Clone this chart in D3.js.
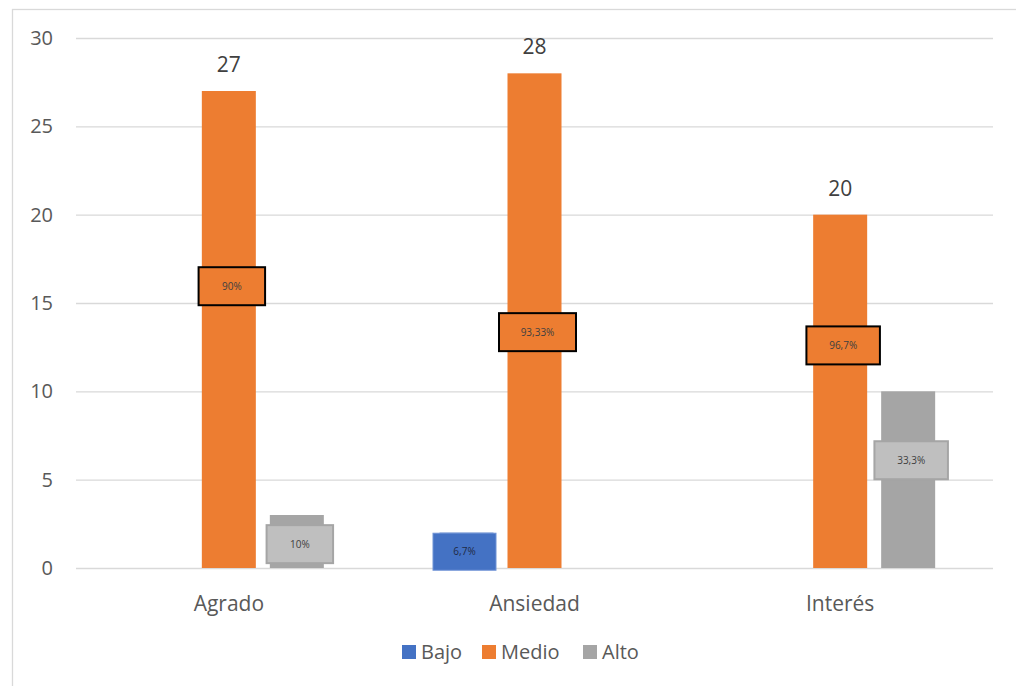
<!DOCTYPE html>
<html>
<head>
<meta charset="utf-8">
<script src="https://cdn.jsdelivr.net/npm/d3@7"></script>
<style>
  body { margin: 0; background: #fff; }
  svg text { font-family: "Open Sans", "Noto Sans", sans-serif; }
</style>
</head>
<body>
<div id="chart"></div>
<script>
// categories and series
const categories = ["Agrado", "Ansiedad", "Interés"];
const seriesNames = ["Bajo", "Medio", "Alto"];
const bajo = [0, 2, 0];
const medio = [27, 28, 20];
const alto = [3, 0, 10];
const yTicks = [0, 5, 10, 15, 20, 25, 30];

// percentage labels (series index, category index, text, value where the box sits)
const pctSeries = [1, 1, 1, 2, 2, 0];
const pctCats = [0, 1, 2, 0, 2, 1];
const pctText = ["90%", "93,33%", "96,7%", "10%", "33,3%", "6,7%"];
const pctAt = [15.95, 13.35, 12.6, 1.35, 6.1, 0.95];

const colors = ["#4472c4", "#ed7d31", "#a5a5a5"];
const boxFill = ["#4472c4", "#ed7d31", "#bfbfbf"];
const boxStroke = ["#6f93d6", "#000000", "#a5a5a5"];

const width = 1016, height = 686;
const margin = { top: 38, right: 23, bottom: 118, left: 76 };
const w = width - margin.left - margin.right;
const h = height - margin.top - margin.bottom;

const values = [bajo, medio, alto];

const svg = d3.select("#chart").append("svg")
  .attr("width", width)
  .attr("height", height);

// chart frame
svg.append("rect")
  .attr("x", 12.5).attr("y", 9.5)
  .attr("width", 1010).attr("height", 700)
  .attr("fill", "none")
  .attr("stroke", "#d9d9d9")
  .attr("stroke-width", 1.3);

const g = svg.append("g")
  .attr("transform", "translate(" + margin.left + "," + margin.top + ")");

const x0 = d3.scaleBand().domain(categories).range([0, w]).paddingInner(0).paddingOuter(0);
const x1 = d3.scaleBand().domain(seriesNames)
  .range([x0.bandwidth() / 2 - 95, x0.bandwidth() / 2 + 95])
  .paddingInner(14 / 68).paddingOuter(0);
const y = d3.scaleLinear().domain([0, 30]).range([h, 0]);

// gridlines + y labels
const yAxis = g.append("g")
  .call(d3.axisLeft(y).tickValues(yTicks).tickSize(-w).tickPadding(23));
yAxis.select(".domain").remove();
yAxis.selectAll("line").attr("stroke", "#d9d9d9").attr("stroke-width", 1.3);
yAxis.selectAll("text")
  .attr("fill", "#595959")
  .style("font-size", "20px");

// x labels
const xAxis = g.append("g")
  .attr("transform", "translate(0," + h + ")")
  .call(d3.axisBottom(x0).tickSize(0).tickPadding(28));
xAxis.select(".domain").remove();
xAxis.selectAll("text")
  .attr("fill", "#595959")
  .style("font-size", "21px");

// bars
const rows = [];
categories.forEach((c, i) => {
  seriesNames.forEach((s, j) => {
    rows.push({ cat: c, series: s, j: j, v: values[j][i] });
  });
});

g.selectAll("rect.bar")
  .data(rows.filter(d => d.v > 0))
  .enter()
  .append("rect")
  .attr("class", "bar")
  .attr("x", d => x0(d.cat) + x1(d.series))
  .attr("y", d => y(d.v))
  .attr("width", x1.bandwidth())
  .attr("height", d => h - y(d.v))
  .attr("fill", d => colors[d.j]);

// value labels on Medio
g.selectAll("text.val")
  .data(rows.filter(d => d.series === "Medio"))
  .enter()
  .append("text")
  .attr("class", "val")
  .attr("x", d => x0(d.cat) + x1(d.series) + x1.bandwidth() / 2)
  .attr("y", d => y(d.v) - 19)
  .attr("text-anchor", "middle")
  .attr("fill", "#404040")
  .style("font-size", "21px")
  .text(d => d.v);

// boxed percentage labels
const pct = pctText.map((t, k) => ({
  text: t, j: pctSeries[k], cat: categories[pctCats[k]], at: pctAt[k]
}));

function boxW(d) {
  return d.j === 0 ? 63 : 56 + d.text.length * 3.5;
}

const boxes = g.selectAll("g.pct")
  .data(pct)
  .enter()
  .append("g")
  .attr("class", "pct")
  .attr("transform", d => "translate(" + (x0(d.cat) + x1(seriesNames[d.j]) + x1.bandwidth() / 2 + (d.j === 0 ? -2 : 3)) + "," + y(d.at) + ")");

boxes.append("rect")
  .attr("x", d => -boxW(d) / 2)
  .attr("y", d => d.j === 0 ? -18 : -19)
  .attr("width", boxW)
  .attr("height", d => d.j === 0 ? 37 : 38)
  .attr("fill", d => boxFill[d.j])
  .attr("stroke", d => boxStroke[d.j])
  .attr("stroke-width", d => d.j === 0 ? 1 : 2);

boxes.append("text")
  .attr("text-anchor", "middle")
  .attr("dy", "0.35em")
  .attr("fill", d => d.j === 0 ? "#1f2a44" : "#404040")
  .style("font-size", "10px")
  .text(d => d.text);

// legend
const legend = svg.append("g").attr("transform", "translate(0,652)");
const legendX = [402, 482, 583];
seriesNames.forEach((s, j) => {
  legend.append("rect")
    .attr("x", legendX[j]).attr("y", -7)
    .attr("width", 14).attr("height", 14)
    .attr("fill", colors[j]);
  legend.append("text")
    .attr("x", legendX[j] + 19)
    .attr("y", 0)
    .attr("dy", "0.35em")
    .attr("fill", "#595959")
    .style("font-size", "20px")
    .text(s);
});
</script>
</body>
</html>
